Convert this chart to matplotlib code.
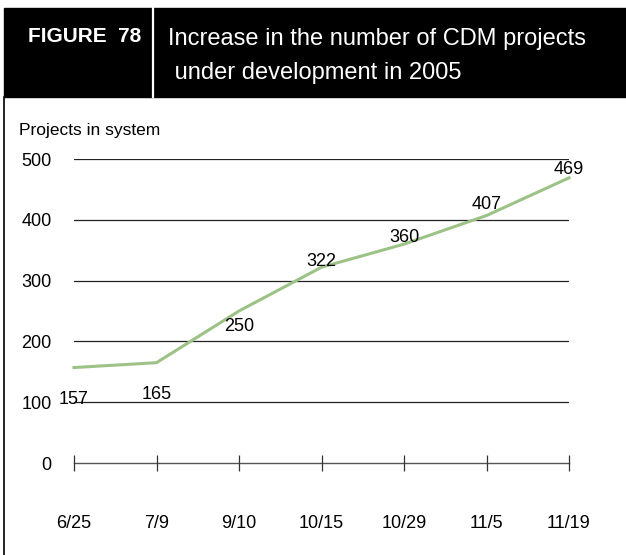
import numpy as np
import matplotlib.pyplot as plt
from matplotlib.patches import Rectangle
from matplotlib.lines import Line2D

plt.rcParams['font.family'] = ['Liberation Sans', 'DejaVu Sans']

dates = ['6/25', '7/9', '9/10', '10/15', '10/29', '11/5', '11/19']
projects = [157, 165, 250, 322, 360, 407, 469]
yticks = [0, 100, 200, 300, 400, 500]

# label offsets in points (dx, dy)
offsets = [(0, -23), (0, -23), (0, -11), (0, 4), (0, 5), (0, 8), (0, 6)]

fig = plt.figure(figsize=(6.26, 5.55), dpi=100)

# header block
fig.patches.append(Rectangle((4 / 626, 1 - 97 / 555), 622 / 626, 89 / 555,
                             transform=fig.transFigure, color='black', zorder=0))
fig.lines.append(Line2D([153 / 626, 153 / 626], [1 - 97 / 555, 1 - 8 / 555],
                        transform=fig.transFigure, color='white', lw=1.6))
fig.lines.append(Line2D([4 / 626, 4 / 626], [0, 1 - 97 / 555],
                        transform=fig.transFigure, color='black', lw=1.2))
fig.text(85 / 626, 1 - 37 / 555, 'FIGURE  78', color='white', fontsize=15,
         fontweight='bold', ha='center', va='center')
fig.text(168 / 626, 1 - 56 / 555, 'Increase in the number of CDM projects\n under development in 2005',
         color='white', fontsize=17, ha='left', va='center', linespacing=1.7)
fig.text(19 / 626, 1 - 130 / 555, 'Projects in system', fontsize=12.5, ha='left', va='center')

ax = fig.add_axes([74 / 626, 92 / 555, 495 / 626, 304 / 555])
x = np.arange(len(dates))
for yv in yticks[1:]:
    ax.axhline(yv, color='#222222', lw=0.9, zorder=1)
ax.axhline(0, color='#555555', lw=1.0, zorder=1, clip_on=False)
ax.plot(x, projects, color='#9cc286', lw=2.2, zorder=3, clip_on=False)
for xi, v, off in zip(x, projects, offsets):
    ax.annotate(str(v), (xi, v), xytext=off, textcoords='offset points',
                ha='center', va='center', fontsize=13)

ax.set_xlim(0, len(dates) - 1)
ax.set_ylim(0, 500)
ax.set_xticks(x)
ax.set_xticklabels(dates, fontsize=13)
ax.set_yticks(yticks)
ax.set_yticklabels([str(t) for t in yticks], fontsize=13)
ax.tick_params(axis='x', direction='inout', length=11, width=0.9, color='#333333', pad=32)
ax.tick_params(axis='y', length=0, pad=16)
for s in ax.spines.values():
    s.set_visible(False)

fig.savefig('out.png', dpi=100)
